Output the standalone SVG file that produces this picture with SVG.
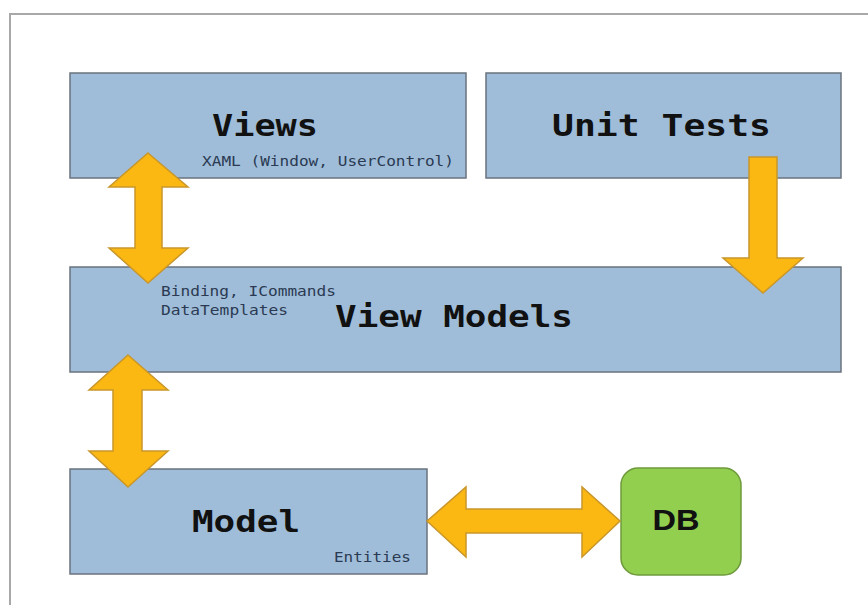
<svg xmlns="http://www.w3.org/2000/svg" width="868" height="605" viewBox="0 0 868 605">
<style>
.box{fill:#9fbdd9;stroke:#6a737d;stroke-width:1.5}
.db{fill:#92cf4f;stroke:#6e9a3c;stroke-width:1.5}
.arr{fill:#fbb812;stroke:#c9962a;stroke-width:1.5;stroke-linejoin:miter}
.title{font-family:"DejaVu Sans Mono","Liberation Mono",monospace;font-weight:bold;font-size:30px;fill:#111}
.small{font-family:"DejaVu Sans Mono","Liberation Mono",monospace;font-size:13.5px;fill:#2b3a52}
.dbt{font-family:"Liberation Sans",Arial,sans-serif;font-weight:bold;font-size:30px;fill:#111}
</style>
<rect width="868" height="605" fill="#fff"/>
<path d="M10,605 L10,14 L868,14" fill="none" stroke="#a8a8a8" stroke-width="2"/>

<g id="views">
<rect class="box" x="70" y="73" width="396" height="105"/>
<text class="title" x="212" y="136" textLength="106" lengthAdjust="spacingAndGlyphs">Views</text>
<text class="small" x="202" y="166" textLength="252" lengthAdjust="spacingAndGlyphs">XAML (Window, UserControl)</text>
</g>
<g id="unit-tests">
<rect class="box" x="486" y="73" width="355" height="105"/>
<text class="title" x="552" y="136" textLength="219" lengthAdjust="spacingAndGlyphs">Unit Tests</text>
</g>
<g id="view-models">
<rect class="box" x="70" y="267" width="771" height="105"/>
<text class="small" x="161" y="296" textLength="175" lengthAdjust="spacingAndGlyphs">Binding, ICommands</text>
<text class="small" x="161" y="315" textLength="127" lengthAdjust="spacingAndGlyphs">DataTemplates</text>
<text class="title" x="335" y="327" textLength="238" lengthAdjust="spacingAndGlyphs">View Models</text>
</g>
<g id="model">
<rect class="box" x="70" y="469" width="357" height="105"/>
<text class="title" x="192" y="532" textLength="108" lengthAdjust="spacingAndGlyphs">Model</text>
<text class="small" x="334" y="562" textLength="77" lengthAdjust="spacingAndGlyphs">Entities</text>
</g>
<g id="db">
<rect class="db" x="621" y="468" width="120" height="107" rx="17" ry="17"/>
<text class="dbt" x="676" y="530" text-anchor="middle" textLength="47" lengthAdjust="spacingAndGlyphs">DB</text>
</g>

<g id="connectors">
<path class="arr" d="M148,153 L188,187 L162,187 L162,248 L188,248 L148,283 L109,248 L135,248 L135,187 L109,187 Z"/>
<path class="arr" d="M128,355 L168,390 L142,390 L142,451 L168,451 L128,487 L89,451 L113,451 L113,390 L89,390 Z"/>
<path class="arr" d="M427,521 L466,487 L466,509 L582,509 L582,487 L620,521 L582,557 L582,533 L466,533 L466,557 Z"/>
<path class="arr" d="M749,157 L777,157 L777,258 L803,258 L763,293 L723,258 L749,258 Z"/>
</g>
</svg>
